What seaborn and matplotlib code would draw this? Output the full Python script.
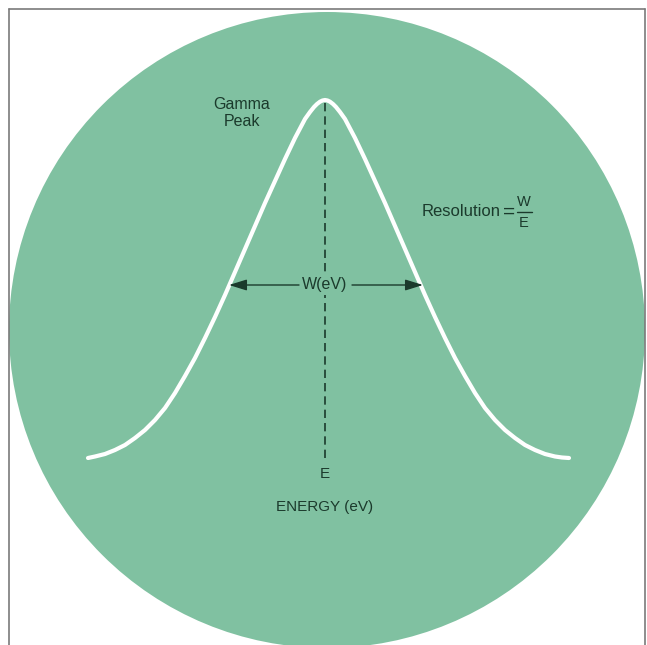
import matplotlib
matplotlib.use("Agg")
import matplotlib.pyplot as plt
from matplotlib.patches import Circle
import seaborn as sns
import pandas as pd

# Curve (energy in arbitrary units, counts above baseline)
energy_left = [88, 95, 105, 115, 125, 135, 145, 155, 165, 175, 185, 195, 205, 215,
               225, 235, 245, 255, 265, 275, 285, 295, 305, 310, 314, 317, 320, 322.5, 325]
counts_left = [0, 1.5, 4, 8, 13, 20, 28, 38, 50, 65, 82, 100, 120, 141,
               163, 186, 209, 232, 255, 277, 299, 320, 339, 346, 351, 354, 356.3, 357.5, 358]
energy_right = [327.5, 330, 333, 336, 340, 345, 355, 365, 375, 385, 395, 405, 415, 425,
                435, 445, 455, 465, 475, 485, 495, 505, 515, 525, 535, 545, 555, 562, 569]
counts_right = [357.5, 356.3, 354, 351, 346, 339, 320, 299, 277, 255, 232, 209, 186, 163,
                141, 120, 100, 82, 65, 50, 38, 28, 20, 13, 8, 4, 1.5, 0.5, 0]

peak_energy = 325
peak_counts = 358
half_max = 173
fwhm_left = 229
fwhm_right = 423

df = pd.DataFrame({"energy": energy_left + energy_right,
                   "counts": counts_left + counts_right})

sns.set_theme(style="white")
plt.rcParams["font.family"] = ["Liberation Sans", "DejaVu Sans"]

fig = plt.figure(figsize=(6.47, 6.45), dpi=100)
ax = fig.add_axes([0, 0, 1, 1])
ax.set_xlim(0, 647)
ax.set_ylim(-187, 458)
ax.axis("off")

bg = "#80c1a1"
ink = "#1b3a2c"

ax.add_patch(Circle((327, 128), 318, facecolor=bg, edgecolor="none", zorder=0))

# frame
ax.plot([8.5, 8.5], [-187, 449], color="#7a7a7a", lw=1.2, zorder=1, clip_on=False)
ax.plot([8.5, 645], [449, 449], color="#7a7a7a", lw=1.2, zorder=1, clip_on=False)
ax.plot([645, 645], [449, -187], color="#7a7a7a", lw=1.2, zorder=1, clip_on=False)

sns.lineplot(data=df, x="energy", y="counts", sort=False, ax=ax, color="white",
             lw=3.0, zorder=3, solid_capstyle="round", solid_joinstyle="round")
ax.set_xlim(0, 647)
ax.set_ylim(-187, 458)

# dashed line at peak
ax.plot([peak_energy, peak_energy], [0, peak_counts], color=ink, lw=1.2,
        dashes=(5, 3), zorder=2)

# W(eV) arrows
ax.text(peak_energy, half_max, "W(eV)", ha="center", va="center", fontsize=11.5,
        color=ink, zorder=5,
        bbox=dict(boxstyle="square,pad=0.15", fc=bg, ec="none"))
arrow = dict(arrowstyle="-|>,head_length=0.9,head_width=0.28", color=ink, lw=1.0,
             shrinkA=0, shrinkB=0)
ax.annotate("", xy=(fwhm_left, half_max), xytext=(299, half_max), arrowprops=arrow, zorder=4)
ax.annotate("", xy=(fwhm_right, half_max), xytext=(352, half_max), arrowprops=arrow, zorder=4)

# labels
ax.text(242, 345, "Gamma\nPeak", ha="center", va="center", fontsize=11.5,
        color=ink, linespacing=1.2)
ax.text(422, 246, "Resolution", ha="left", va="center", fontsize=12, color=ink)
ax.text(515, 246, "=", ha="right", va="center", fontsize=15, color=ink)
ax.text(524, 256, "W", ha="center", va="center", fontsize=10.5, color=ink)
ax.text(524, 235, "E", ha="center", va="center", fontsize=10.5, color=ink)
ax.plot([517, 532], [246, 246], color=ink, lw=1.0)
ax.text(peak_energy, -16, "E", ha="center", va="center", fontsize=11, color=ink)
ax.text(peak_energy, -49, "ENERGY (eV)", ha="center", va="center", fontsize=11, color=ink)

fig.savefig("out.png", dpi=100, facecolor="white")
